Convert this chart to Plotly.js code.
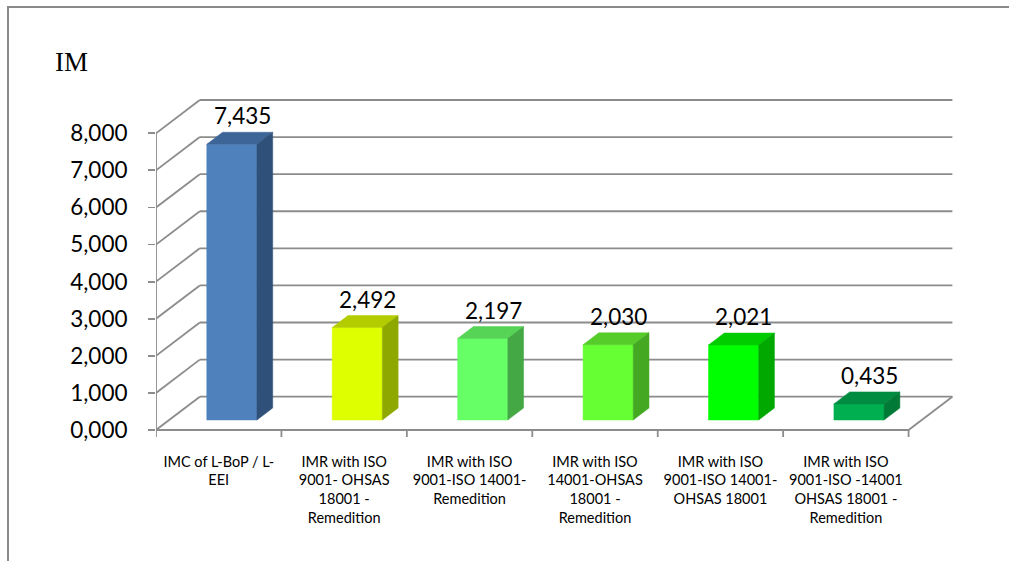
<!DOCTYPE html>
<html>
<head>
<meta charset="utf-8">
<script src="https://cdn.plot.ly/plotly-3.0.1.min.js"></script>
<style>
  html, body { margin: 0; padding: 0; background: #ffffff; }
  #wrap { position: relative; width: 1009px; height: 561px; overflow: hidden; }
  #chart { position: absolute; left: 0; top: 0; width: 1009px; height: 561px; }
  #frame { position: absolute; left: 7px; top: 6px; width: 1100px; height: 700px;
           border: 2px solid #8a8a8a; pointer-events: none; box-sizing: border-box; }
</style>
</head>
<body>
<div id="wrap">
  <div id="chart"></div>
  <div id="frame"></div>
</div>
<script>
// Category labels (multi-line)
const categories = [
  'IMC of L-BoP / L-<br>EEI',
  'IMR with ISO<br>9001- OHSAS<br>18001 -<br>Remedition',
  'IMR with ISO<br>9001-ISO 14001-<br>Remedition',
  'IMR with ISO<br>14001-OHSAS<br>18001 -<br>Remedition',
  'IMR with ISO<br>9001-ISO 14001-<br>OHSAS 18001',
  'IMR with ISO<br>9001-ISO -14001<br>OHSAS 18001 -<br>Remedition'
];

// IM values per category
const values = [7.435, 2.492, 2.197, 2.030, 2.021, 0.435];

// Value-axis ticks
const yTicks = [0, 1, 2, 3, 4, 5, 6, 7, 8];

// Face colours: front, top, side
const frontColors = ['#4f81bd', '#ddff00', '#66ff66', '#66ff33', '#00ff00', '#00b050'];
const topColors   = ['#3d6597', '#b3cc00', '#55d455', '#55cc2a', '#00cc00', '#008c40'];
const sideColors  = ['#2f5079', '#8ea800', '#44a844', '#44a822', '#00a800', '#007a36'];

// ---- oblique projection settings ----
const PX_X = 125.43;           // pixels per category
const PX_Y = 37.09;            // pixels per value unit
const DX = 43.8 / PX_X;        // depth offset along x (data units)
const DY = 33.3 / PX_Y;        // depth offset along y (data units)
const BAR_HALF = 0.2;          // half bar width (categories)
const D0 = 0.30, D1 = 0.66;    // bar front/back depth fractions
const N = categories.length;
const YMAX = yTicks[yTicks.length - 1];

function P(u, v, d) { return [u + d * DX, v + d * DY]; }

const GRID = '#8c8c8c';
const TEXT_FONT = 'Lato, sans-serif';
const traces = [];

// walls, floor and axis frame
(function () {
  const xs = [], ys = [];
  function seg(a, b) { xs.push(a[0], b[0], null); ys.push(a[1], b[1], null); }
  yTicks.forEach(v => {
    seg(P(0, v, 1), P(N, v, 1));   // back wall line
    seg(P(0, v, 0), P(0, v, 1));   // side wall line
  });
  seg(P(0, 0, 0), P(N, 0, 0));     // floor front edge
  seg(P(N, 0, 0), P(N, 0, 1));     // floor right edge
  seg(P(0, 0, 0), P(0, YMAX, 0));  // value axis line
  const tick = 7 / PX_Y;
  for (let i = 0; i <= N; i++) seg([i, 0], [i, -tick]);
  traces.push({ type: 'scatter', mode: 'lines', x: xs, y: ys,
    line: { color: GRID, width: 1.8 }, hoverinfo: 'skip', showlegend: false });
})();

// bars: front, top and side faces
values.forEach((h, i) => {
  const c = i + 0.5, x0 = c - BAR_HALF, x1 = c + BAR_HALF;
  const faces = [
    { pts: [P(x0, 0, D0), P(x1, 0, D0), P(x1, h, D0), P(x0, h, D0)], col: frontColors[i] },
    { pts: [P(x0, h, D0), P(x1, h, D0), P(x1, h, D1), P(x0, h, D1)], col: topColors[i] },
    { pts: [P(x1, 0, D0), P(x1, 0, D1), P(x1, h, D1), P(x1, h, D0)], col: sideColors[i] }
  ];
  faces.forEach(f => {
    const xs = f.pts.map(p => p[0]).concat([f.pts[0][0]]);
    const ys = f.pts.map(p => p[1]).concat([f.pts[0][1]]);
    traces.push({ type: 'scatter', mode: 'lines', x: xs, y: ys, fill: 'toself',
      fillcolor: f.col, line: { color: f.col, width: 0.5 },
      hoverinfo: 'skip', showlegend: false });
  });
});

// value labels above each bar
const fmt = v => v.toFixed(3).replace('.', ',');
const annotations = values.map((h, i) => {
  const p = P(i + 0.5, h, (D0 + D1) / 2);
  return { x: p[0] + 0.02, y: h + D1 * DY, xref: 'x', yref: 'y', text: fmt(h),
    showarrow: false, yanchor: 'bottom', yshift: 1,
    font: { family: TEXT_FONT, size: 22.5, color: '#000000' } };
});

const layout = {
  width: 1009, height: 561,
  margin: { l: 156, r: 53, t: 98, b: 121 },
  paper_bgcolor: '#ffffff', plot_bgcolor: 'rgba(0,0,0,0)',
  separators: ',.',
  showlegend: false,
  title: { text: 'IM', xref: 'container', yref: 'container', x: 55 / 1009, xanchor: 'left',
    y: 1 - 62 / 561, yanchor: 'middle',
    font: { family: '"Liberation Serif", serif', size: 27, color: '#000000' } },
  xaxis: {
    range: [0, 800 / PX_X], showgrid: false, zeroline: false, showline: false,
    tickmode: 'array', tickvals: categories.map((_, i) => i + 0.5), ticktext: categories,
    ticks: '', tickangle: 0, ticklabelstandoff: 11,
    tickfont: { family: TEXT_FONT, size: 14.5, color: '#000000' }, fixedrange: true
  },
  yaxis: {
    range: [-10 / PX_Y, (342 - 10) / PX_Y], showgrid: false, zeroline: false, showline: false,
    tickmode: 'array', tickvals: yTicks, tickformat: '.3f',
    ticks: 'outside', ticklen: 7, tickwidth: 1.8, tickcolor: GRID, ticklabelstandoff: 16,
    tickfont: { family: TEXT_FONT, size: 22.5, color: '#000000' }, fixedrange: true
  },
  annotations: annotations
};

Plotly.newPlot('chart', traces, layout, { displayModeBar: false, staticPlot: true });
</script>
</body>
</html>
